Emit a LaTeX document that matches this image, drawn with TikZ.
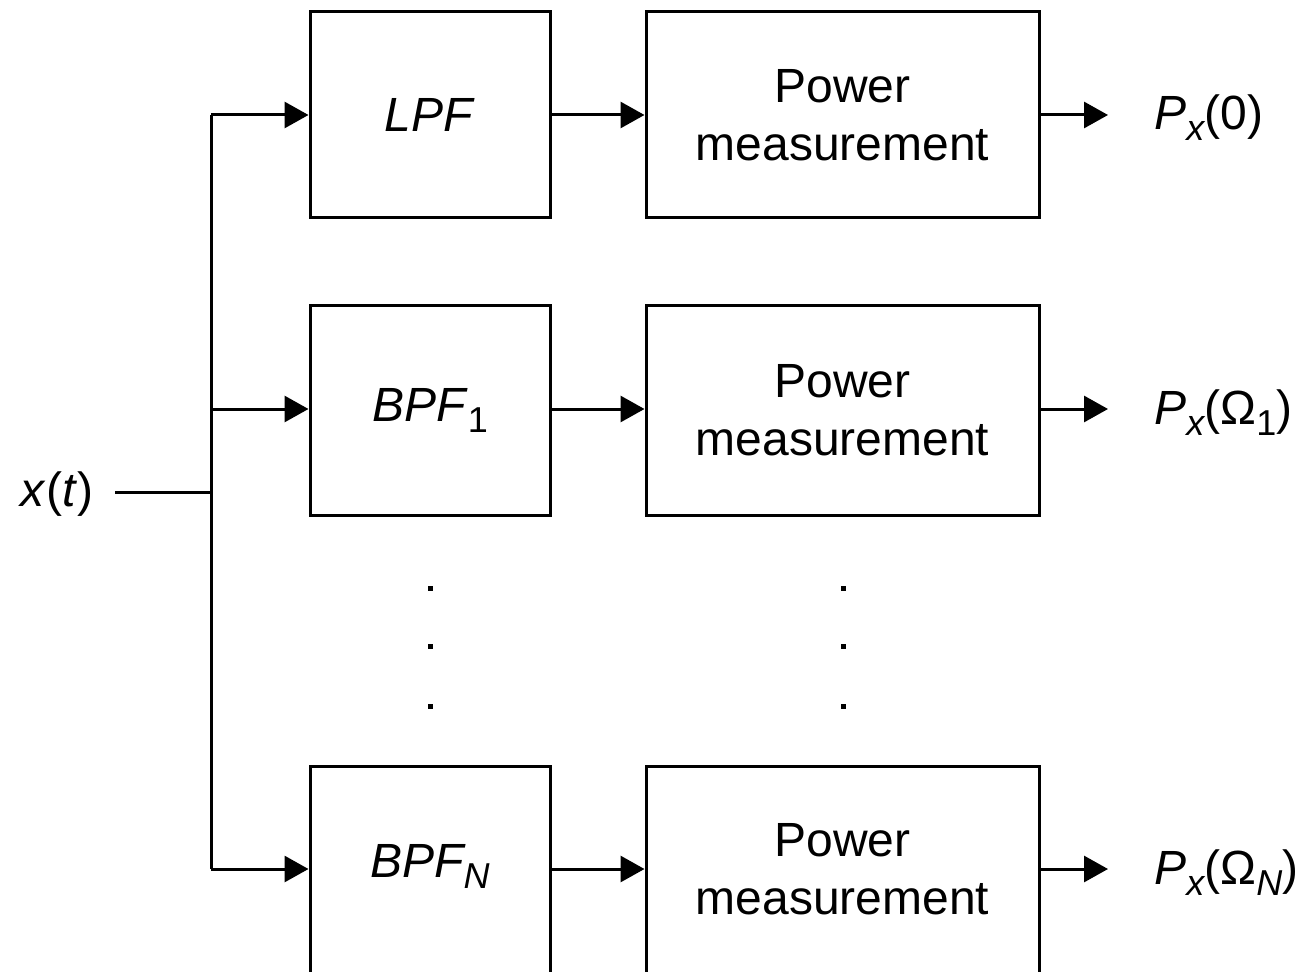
\documentclass[tikz,border=0pt]{standalone}
\usepackage{fontspec}
\setmainfont{Liberation Sans}
\usetikzlibrary{arrows.meta}
\newcommand{\lowsub}[1]{\raisebox{-5.5pt}{\fontsize{18}{18}\selectfont #1}}
\tikzset{
  blk/.style={draw, line width=1.5pt, inner sep=0pt, align=center, font=\fontsize{24}{29}\selectfont},
  flt/.style={blk, minimum width=120pt},
  pwr/.style={blk, minimum width=196.5pt},
  wire/.style={line width=1.5pt},
  arr/.style={wire, -{Triangle[length=12pt,width=13pt]}},
  lbl/.style={font=\fontsize{24}{29}\selectfont, inner sep=0pt},
  dot/.style={fill, inner sep=0pt, minimum size=2.5pt}
}
\begin{document}
\begin{tikzpicture}[x=0.5pt,y=-0.5pt]
\path[use as bounding box] (0,0) rectangle (1309,972);
\clip (0,0) rectangle (1309,972);
% boxes
\node[flt, minimum height=103pt] (lpf) at (430,115) {\textit{LPF}};
\node[pwr, minimum height=103pt] (p0) at (842.5,115) {Power\\measurement};
\node[flt, minimum height=104.5pt] (bpf1) at (430,410.5) {\textit{BPF}\lowsub{1}};
\node[pwr, minimum height=104.5pt] (p1) at (842.5,410.5) {Power\\measurement};
\node[flt, minimum height=108pt] (bpfn) at (430,874) {};
\node[pwr, minimum height=108pt] (pn) at (842.5,874) {};
\node[lbl] (bpfnt) at (430,866) {\textit{BPF\lowsub{N}}};
\node[lbl, align=center] (pnt) at (842.5,869) {Power\\measurement};
% input
\node[lbl] (xt) at (57,494) {\textit{x}(\textit{t})};
\coordinate (in) at (115,492);
\coordinate (j) at (211,492);
\coordinate (jt) at (211,115);
\coordinate (j1) at (211,409);
\coordinate (jb) at (211,869);
\draw[wire] (in) -- (j);
\draw[wire] (jt) -- (jb);
\draw[arr] (jt) -- (lpf.west);
\draw[arr] (j1) -- (bpf1.west |- j1);
\draw[arr] (jb) -- (bpfn.west |- jb);
\draw[arr] (lpf.east) -- (p0.west);
\draw[arr] (bpf1.east |- j1) -- (p1.west |- j1);
\draw[arr] (bpfn.east |- jb) -- (pn.west |- jb);
% outputs
\coordinate (o0) at (1108,115);
\coordinate (o1) at (1108,409);
\coordinate (on) at (1108,869);
\draw[arr] (p0.east) -- (o0);
\draw[arr] (p1.east |- o1) -- (o1);
\draw[arr] (pn.east |- on) -- (on);
\node[lbl, anchor=base west] (l0) at (1154,130) {\textit{P\lowsub{x}}(0)};
\node[lbl, anchor=base west] (l1) at (1154,424) {\textit{P\lowsub{x}}(Ω\lowsub{1})};
\node[lbl, anchor=base west] (ln) at (1154,884) {\textit{P\lowsub{x}}(Ω\lowsub{\textit{N}})};
% dots
\foreach \yy [count=\i] in {588,646,706}{
  \node[dot] (da\i) at (430,\yy) {};
  \node[dot] (db\i) at (843,\yy) {};
}
\end{tikzpicture}
\end{document}
